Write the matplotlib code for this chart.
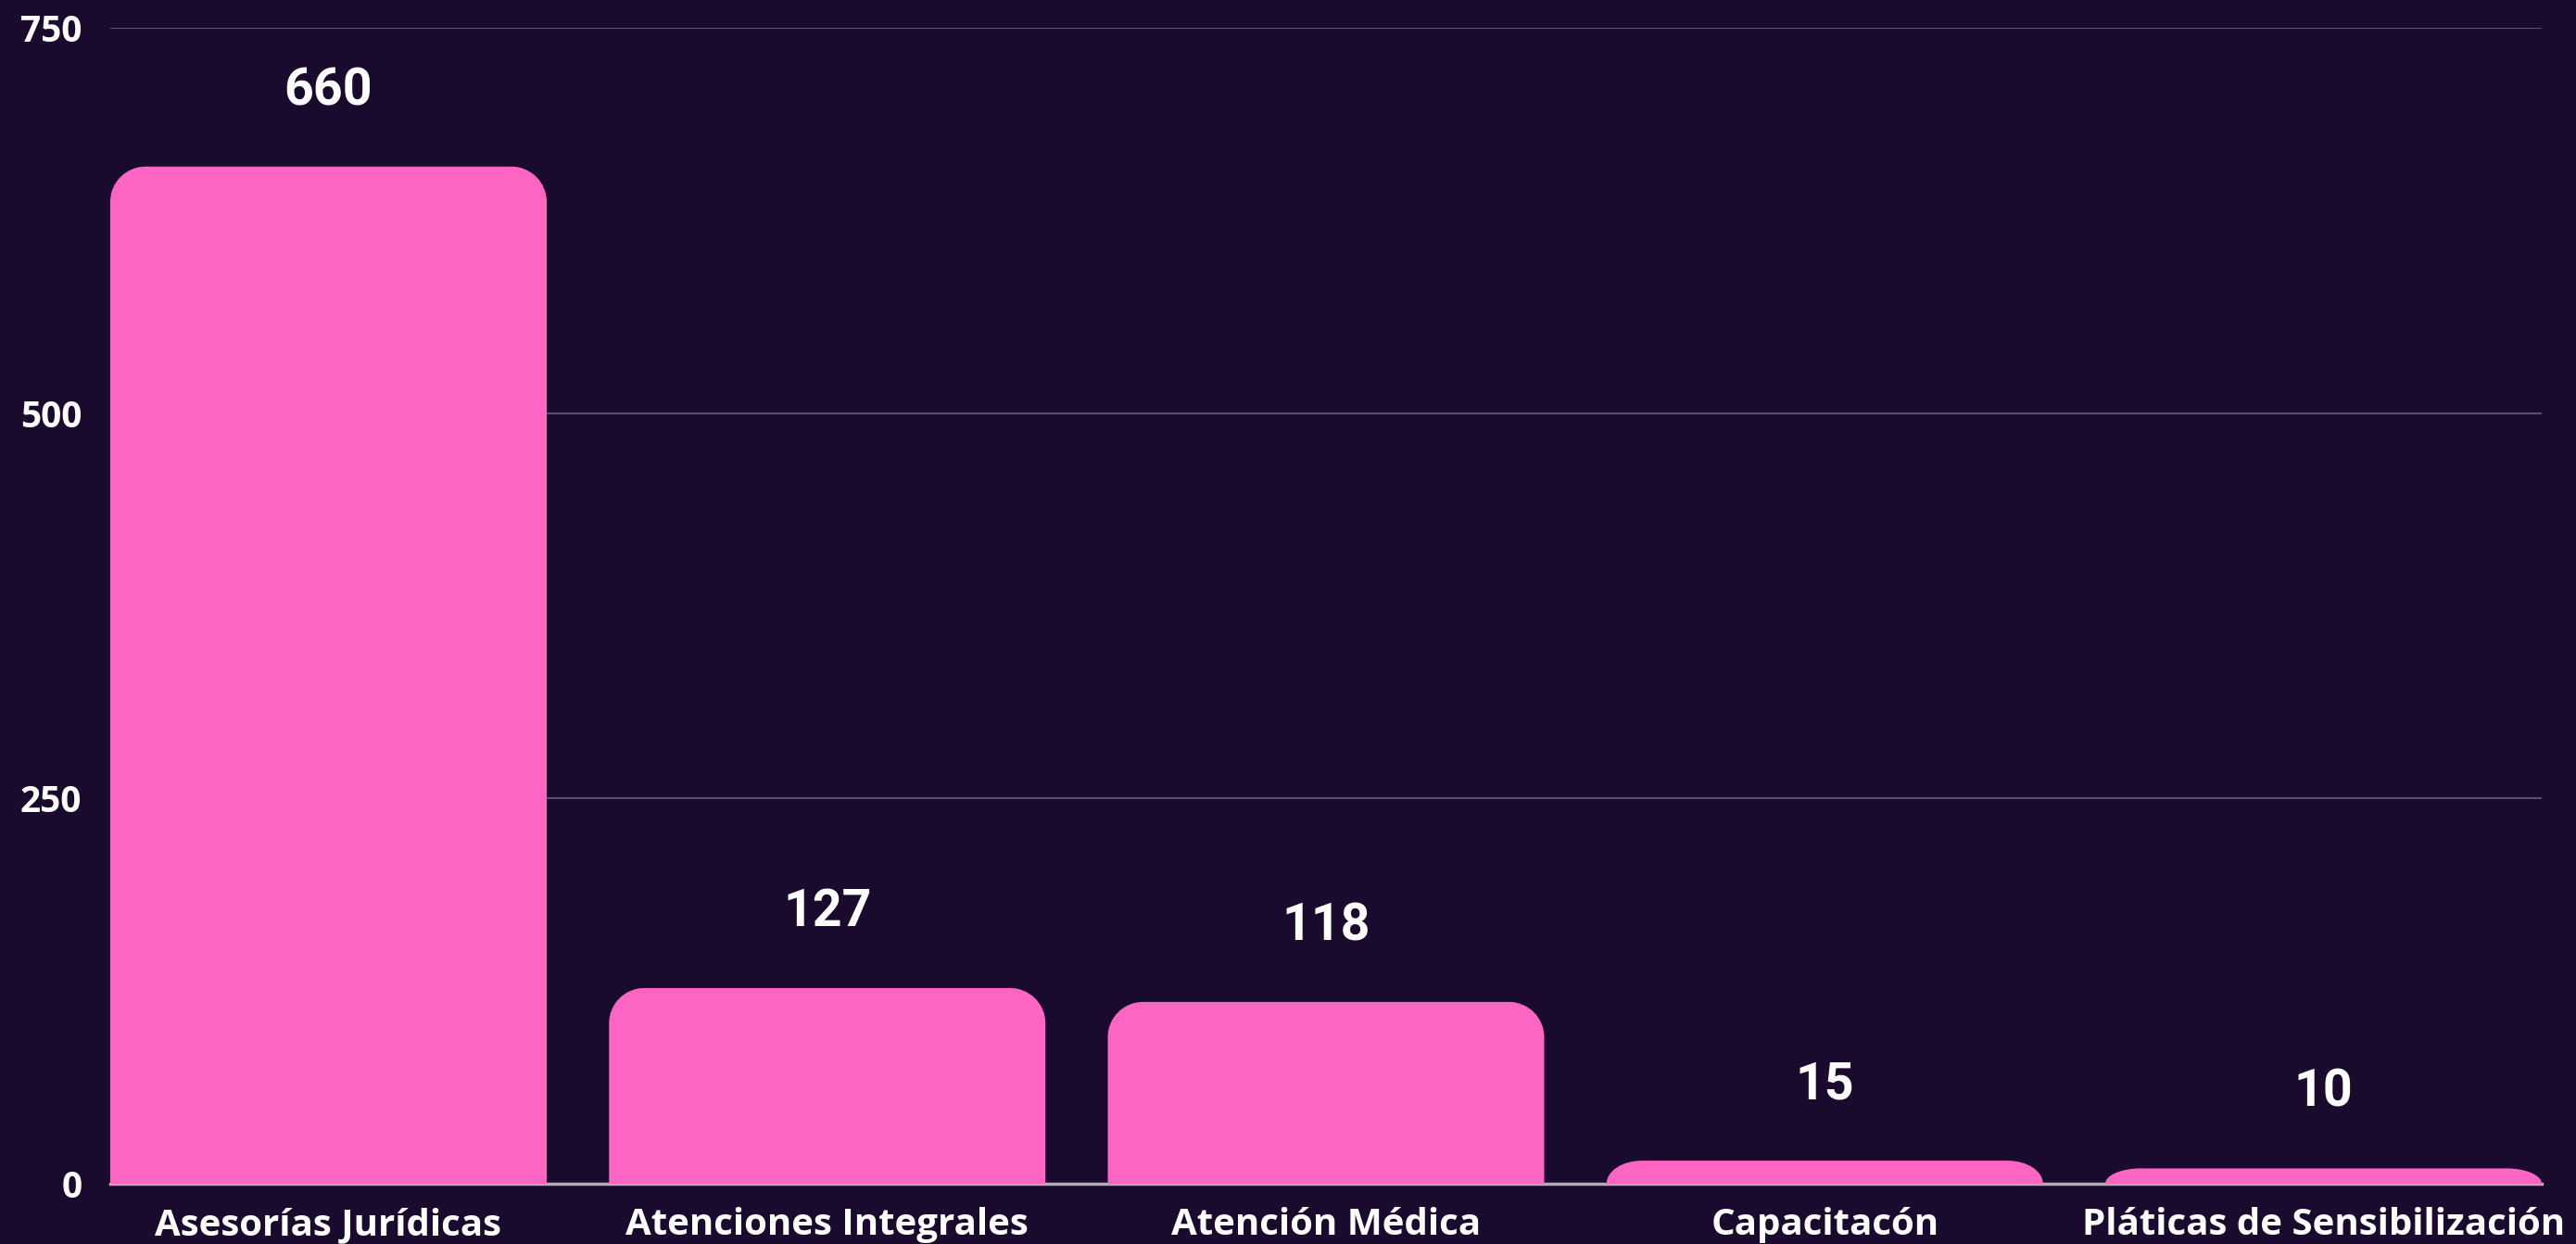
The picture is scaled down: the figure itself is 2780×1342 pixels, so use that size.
import matplotlib
matplotlib.use("Agg")
import matplotlib.pyplot as plt
from matplotlib.path import Path
from matplotlib.patches import PathPatch

categories = ["Asesorías Jurídicas", "Atenciones Integrales", "Atención Médica",
              "Capacitacón", "Pláticas de Sensibilización"]
values = [660, 127, 118, 15, 10]
y_ticks = [0, 250, 500, 750]

BG = "#1a0a2e"
PINK = "#ff66c4"
GRID = "#5c4d6e"

W, H, DPI = 27.8, 13.42, 100


def rounded_top(x0, w, h, rx, ry):
    # bar path with the two top corners rounded
    ry = min(ry, h)
    rx = min(rx, w / 2)
    k = 0.5523
    verts = [
        (x0, 0),
        (x0, h - ry),
        (x0, h - ry + k * ry), (x0 + rx - k * rx, h), (x0 + rx, h),
        (x0 + w - rx, h),
        (x0 + w - rx + k * rx, h), (x0 + w, h - ry + k * ry), (x0 + w, h - ry),
        (x0 + w, 0),
        (x0, 0),
    ]
    codes = [Path.MOVETO, Path.LINETO,
             Path.CURVE4, Path.CURVE4, Path.CURVE4,
             Path.LINETO,
             Path.CURVE4, Path.CURVE4, Path.CURVE4,
             Path.LINETO, Path.CLOSEPOLY]
    return Path(verts, codes)


fig = plt.figure(figsize=(W, H), dpi=DPI, facecolor=BG)
ax = fig.add_axes([0.0428, 0.0484, 0.9439, 0.9292])
ax.set_facecolor(BG)

width = 0.875
xs = list(range(len(categories)))
bars = ax.bar(xs, values, width=width, color=PINK)
ax.set_xlim(-width / 2, len(categories) - 1 + width / 2)
ax.set_ylim(0, 750)

# corner radius in pixels -> data units
ax_w_px = 0.9439 * W * DPI
ax_h_px = 0.9292 * H * DPI
rad_px = 38
rx = rad_px * (ax.get_xlim()[1] - ax.get_xlim()[0]) / ax_w_px
ry = rad_px * 750 / ax_h_px

for b in bars:
    p = rounded_top(b.get_x(), b.get_width(), b.get_height(), rx, ry)
    ax.add_patch(PathPatch(p, facecolor=PINK, edgecolor="none", zorder=3))
    b.set_visible(False)

for x, v in zip(xs, values):
    ax.text(x, v + 49, str(v), ha="center", va="center", color="white",
            fontsize=40, fontfamily="Roboto", fontweight="bold", zorder=4)

ax.set_yticks(y_ticks)
ax.set_yticklabels([str(t) for t in y_ticks])
ax.set_xticks(xs)
ax.set_xticklabels(categories)
for lab in ax.get_yticklabels():
    lab.set_fontfamily("Open Sans")
    lab.set_fontweight("bold")
    lab.set_fontsize(28)
    lab.set_color("white")
for lab in ax.get_xticklabels():
    lab.set_fontfamily("Open Sans")
    lab.set_fontweight("bold")
    lab.set_fontsize(29)
    lab.set_color("white")

ax.tick_params(axis="y", length=0, pad=22)
ax.tick_params(axis="x", length=0, pad=18)

ax.grid(axis="y", color=GRID, linewidth=1.5)
ax.set_axisbelow(True)
for s in ["top", "right", "left"]:
    ax.spines[s].set_visible(False)
ax.spines["bottom"].set_color("#b4aabb")
ax.spines["bottom"].set_linewidth(2.5)
ax.spines["bottom"].set_zorder(2)

fig.savefig("out.png", dpi=DPI, facecolor=BG)
